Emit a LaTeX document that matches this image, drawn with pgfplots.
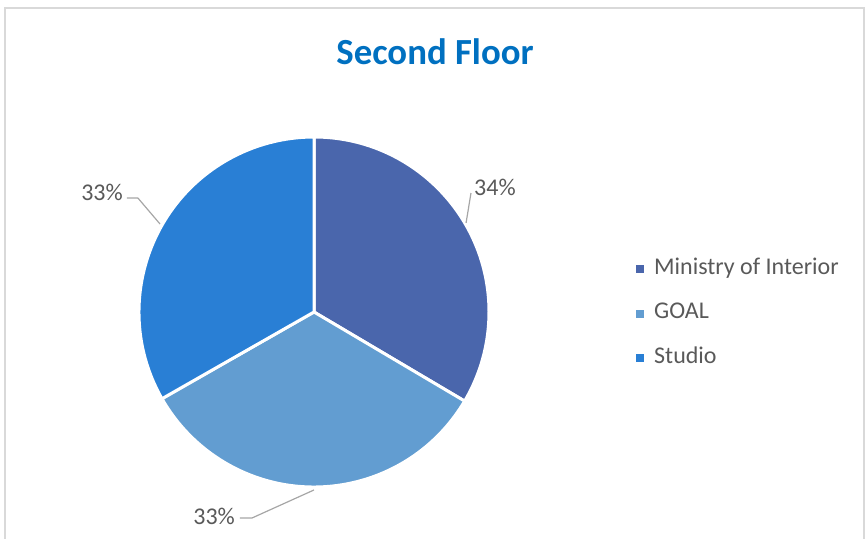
\documentclass[border=0pt]{standalone}
\usepackage{pgfplots}
\usepackage{pgfplotstable}
\pgfplotsset{compat=1.18}
\usepackage{fontspec}
\setmainfont{Carlito}
\definecolor{ministry}{HTML}{4A66AC}
\definecolor{goal}{HTML}{629DD1}
\definecolor{studio}{HTML}{297FD5}
\definecolor{titleblue}{HTML}{0070C0}
\definecolor{txt}{HTML}{595959}
\definecolor{leader}{HTML}{A6A6A6}
\definecolor{frame}{HTML}{D9D9D9}

\pgfplotstableread{
label value
Ministry 33.5
GOAL 33.25
Studio 33.25
}\piedata

\begin{document}
\begin{tikzpicture}
\begin{scope}[x=0.5pt,y=-0.5pt]
\useasboundingbox (0,0) rectangle (867,539);
\draw[frame, line width=1pt] (5,539) -- (5,8) -- (864,8) -- (864,539);
\node[font=\fontsize{18.4}{20}\selectfont\bfseries, text=titleblue] at (435,52) {Second Floor};
\end{scope}

\pgfplotstablegetelem{0}{value}\of\piedata \let\vA\pgfplotsretval
\pgfplotstablegetelem{1}{value}\of\piedata \let\vB\pgfplotsretval
\pgfplotstablegetelem{2}{value}\of\piedata \let\vC\pgfplotsretval
\pgfmathsetmacro\tot{\vA+\vB+\vC}
\pgfmathsetmacro\aA{90}
\pgfmathsetmacro\aB{\aA-360*\vA/\tot}
\pgfmathsetmacro\aC{\aB-360*\vB/\tot}
\pgfmathsetmacro\aD{\aC-360*\vC/\tot}

\begin{axis}[
  at={(157pt,-156pt)}, anchor=center,
  scale only axis, width=175pt, height=175pt,
  xmin=-1, xmax=1, ymin=-1, ymax=1,
  hide axis, clip=false,
  legend style={at={(axis description cs:1.42,0.495)}, anchor=west,
    draw=none, fill=none, inner sep=0pt, row sep=11.3pt, column sep=5pt,
    font=\fontsize{12}{14}\selectfont, text=txt,
    nodes={inner sep=0pt, text height=8pt, text depth=3pt}},
  legend cell align=left,
  legend image code/.code={\fill[#1] (0pt,-1.75pt) rectangle (3.5pt,1.75pt);},
]
\fill[ministry, draw=white, line width=1.5pt, line join=round] (axis cs:0,0) -- (axis cs:{cos(\aA)},{sin(\aA)}) arc[start angle=\aA, end angle=\aB, radius=87.5pt] -- cycle;
\fill[goal, draw=white, line width=1.5pt, line join=round] (axis cs:0,0) -- (axis cs:{cos(\aB)},{sin(\aB)}) arc[start angle=\aB, end angle=\aC, radius=87.5pt] -- cycle;
\fill[studio, draw=white, line width=1.5pt, line join=round] (axis cs:0,0) -- (axis cs:{cos(\aC)},{sin(\aC)}) arc[start angle=\aC, end angle=\aD, radius=87.5pt] -- cycle;

\addlegendimage{ministry}\addlegendentry{Ministry of Interior}
\addlegendimage{goal}\addlegendentry{GOAL}
\addlegendimage{studio}\addlegendentry{Studio}

% leader lines and labels
\draw[leader, line width=0.6pt] (axis cs:0.897,0.68) -- (axis cs:0.869,0.509);
\node[text=txt, font=\fontsize{12}{14}\selectfont] at (axis cs:1.034,0.714) {34\%};
\draw[leader, line width=0.6pt] (axis cs:-1.069,0.651) -- (axis cs:-1.006,0.651) -- (axis cs:-0.88,0.503);
\node[text=txt, font=\fontsize{12}{14}\selectfont] at (axis cs:-1.211,0.686) {33\%};
\draw[leader, line width=0.6pt] (axis cs:-0.423,-1.177) -- (axis cs:-0.354,-1.177) -- (axis cs:0,-1.017);
\node[text=txt, font=\fontsize{12}{14}\selectfont] at (axis cs:-0.571,-1.166) {33\%};
\end{axis}
\end{tikzpicture}
\end{document}
